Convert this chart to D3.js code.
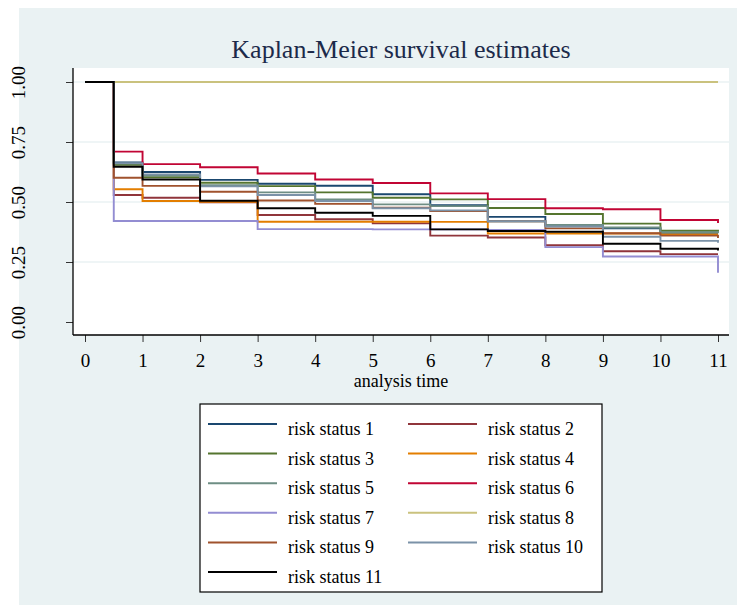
<!DOCTYPE html>
<html><head><meta charset="utf-8">
<script src="https://cdn.jsdelivr.net/npm/d3@7"></script>
<style>body{margin:0;background:#fff}svg{display:block}text{font-family:"Liberation Serif","Times New Roman",serif}</style>
</head><body><svg id="c" width="737" height="613"></svg>
<script>
const times = [0, 0.5, 1, 2, 3, 4, 5, 6, 7, 8, 9, 10, 11];
const s1  = [1, 0.665, 0.625, 0.592, 0.576, 0.568, 0.532, 0.487, 0.438, 0.402, 0.390, 0.372, 0.372];
const s2  = [1, 0.529, 0.518, 0.499, 0.446, 0.428, 0.411, 0.360, 0.352, 0.320, 0.295, 0.283, 0.283];
const s3  = [1, 0.655, 0.603, 0.580, 0.566, 0.540, 0.518, 0.511, 0.475, 0.450, 0.410, 0.380, 0.376];
const s4  = [1, 0.553, 0.504, 0.501, 0.418, 0.418, 0.418, 0.417, 0.369, 0.369, 0.369, 0.365, 0.365];
const s5  = [1, 0.660, 0.610, 0.570, 0.540, 0.511, 0.490, 0.483, 0.420, 0.404, 0.394, 0.374, 0.370];
const s6  = [1, 0.710, 0.658, 0.645, 0.619, 0.594, 0.579, 0.536, 0.512, 0.474, 0.470, 0.425, 0.412];
const s7  = [1, 0.421, 0.421, 0.421, 0.387, 0.387, 0.386, 0.386, 0.384, 0.312, 0.273, 0.273, 0.205];
const s8  = [1, 1, 1, 1, 1, 1, 1, 1, 1, 1, 1, 1, 1];
const s9  = [1, 0.601, 0.567, 0.543, 0.506, 0.492, 0.476, 0.462, 0.420, 0.390, 0.370, 0.360, 0.350];
const s10 = [1, 0.662, 0.615, 0.565, 0.529, 0.504, 0.474, 0.465, 0.420, 0.398, 0.355, 0.338, 0.330];
const s11 = [1, 0.647, 0.594, 0.505, 0.474, 0.455, 0.442, 0.386, 0.379, 0.376, 0.326, 0.305, 0.298];
const seriesNames = ["risk status 1","risk status 2","risk status 3","risk status 4","risk status 5","risk status 6","risk status 7","risk status 8","risk status 9","risk status 10","risk status 11"];
const seriesColors = ["#1a476f","#90353b","#55752f","#e37e00","#6e8e84","#c10534","#938dd2","#cac27e","#a0522d","#7b92a8","#000000"];
const xTicks = [0,1,2,3,4,5,6,7,8,9,10,11];
const yTicks = [0, 0.25, 0.5, 0.75, 1];
const title = "Kaplan-Meier survival estimates";
const xTitle = "analysis time";

const allSeries = [s1,s2,s3,s4,s5,s6,s7,s8,s9,s10,s11];
const svg = d3.select("#c");
const bgCol = "#eaf2f3";
svg.append("rect").attr("x",19).attr("y",8).attr("width",737-19).attr("height",605-8).attr("fill",bgCol);

const P = {l:73, r:729, t:68, b:335};
svg.append("rect").attr("x",P.l).attr("y",P.t).attr("width",P.r-P.l).attr("height",P.b-P.t).attr("fill","#fff");

const x = d3.scaleLinear().domain([0,11]).range([85,718]);
const y = d3.scaleLinear().domain([0,1]).range([322,82]);

// gridlines
svg.append("g").selectAll("line").data(yTicks.filter(d=>d>0)).join("line")
  .attr("x1",P.l).attr("x2",P.r).attr("y1",d=>y(d)).attr("y2",d=>y(d))
  .attr("stroke",bgCol).attr("stroke-width",1.6);

// title
svg.append("text").attr("x",(P.l+P.r)/2).attr("y",58).attr("text-anchor","middle")
  .attr("font-size",26).attr("fill","#1c2a4a").text(title);

// lines
const line = d3.line().x(d=>x(d[0])).y(d=>y(d[1])).curve(d3.curveStepAfter);
const g = svg.append("g");
allSeries.forEach((s,i)=>{
  const pts = times.map((t,j)=>[t,s[j]]);
  g.append("path").attr("d",line(pts)).attr("fill","none")
    .attr("stroke",seriesColors[i]).attr("stroke-width",1.9);
});

// axes
const yAxis = d3.axisLeft(y).tickValues(yTicks).tickSize(7).tickSizeOuter(0).tickFormat(d3.format(".2f"));
const ya = svg.append("g").attr("transform",`translate(${P.l},0)`).call(yAxis);
ya.select(".domain").remove();
ya.selectAll(".tick line").attr("stroke","#333");
ya.selectAll(".tick text").attr("x",null).attr("dy",null).attr("font-size",19)
  .attr("font-family","Liberation Serif").attr("fill","#000").attr("text-anchor","middle")
  .attr("transform","translate(-48,0) rotate(-90)");

const xAxis = d3.axisBottom(x).tickValues(xTicks).tickSize(7).tickSizeOuter(0);
const xa = svg.append("g").attr("transform",`translate(0,${P.b})`).call(xAxis);
xa.select(".domain").remove();
xa.selectAll(".tick line").attr("stroke","#333");
xa.selectAll(".tick text").attr("y",32).attr("dy",null).attr("font-size",19)
  .attr("font-family","Liberation Serif").attr("fill","#000");

svg.append("line").attr("x1",P.l).attr("x2",P.l).attr("y1",P.t).attr("y2",P.b).attr("stroke","#000").attr("stroke-width",1.3);
svg.append("line").attr("x1",P.l).attr("x2",P.r).attr("y1",P.b).attr("y2",P.b).attr("stroke","#000").attr("stroke-width",1.3);

svg.append("text").attr("x",(P.l+P.r)/2).attr("y",387).attr("text-anchor","middle")
  .attr("font-size",18).attr("fill","#000").text(xTitle);

// legend
const L = {x:200, y:404, w:402, h:188};
svg.append("rect").attr("x",L.x).attr("y",L.y).attr("width",L.w).attr("height",L.h)
  .attr("fill","#fff").attr("stroke","#000").attr("stroke-width",1.2);
const lg = svg.append("g");
seriesNames.forEach((n,i)=>{
  const col = i%2, row = Math.floor(i/2);
  const base = 435 + row*29.6;
  const lx = col===0 ? 208 : 408;
  lg.append("line").attr("x1",lx).attr("x2",lx+69).attr("y1",base-11).attr("y2",base-11)
    .attr("stroke",seriesColors[i]).attr("stroke-width",2);
  lg.append("text").attr("x",lx+80).attr("y",base).attr("font-size",18).attr("fill","#000").text(n);
});
</script></body></html>
